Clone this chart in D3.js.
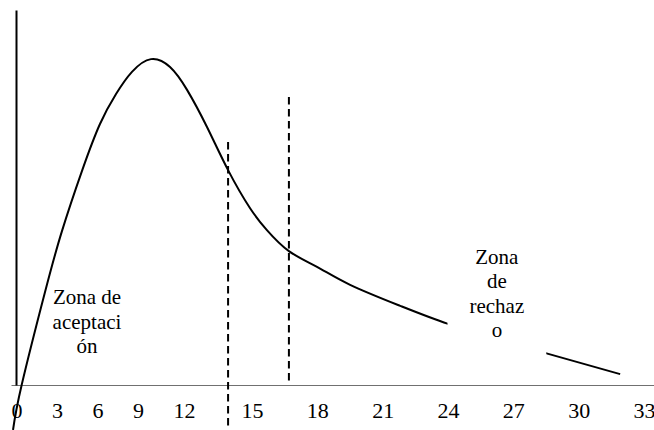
<!DOCTYPE html>
<html>
<head>
<meta charset="utf-8">
<script src="https://cdn.jsdelivr.net/npm/d3@7/dist/d3.min.js"></script>
<style>
  html, body { margin: 0; padding: 0; background: #fff; }
  svg { display: block; }
</style>
</head>
<body>
<script>
// ---- data ----
const xTickValues = [0, 3, 6, 9, 12, 15, 18, 21, 24, 27, 30, 33];
const curveX = [0.15, 0.79, 2.52, 3.78, 5.26, 6.59, 7.78, 8.96, 10.37, 11.78, 12.62, 13.50, 14.43, 15.41, 16.19, 17.20, 18.49, 20.01, 22.31, 24.51, 26.81, 29.11, 32.41];
const curveY = [-0.012, 0, 0.0248, 0.0411, 0.0571, 0.0696, 0.0776, 0.0835, 0.0869, 0.0848, 0.0787, 0.0688, 0.0573, 0.0472, 0.0413, 0.0357, 0.0315, 0.0267, 0.0211, 0.0163, 0.0123, 0.0083, 0.0029];
const criticalX = [14.43, 17.20];
const criticalTop = [0.0648, 0.0768];
const criticalBottom = [-0.012, 0];
const acceptLines = ["Zona de", "aceptaci", "ón"];
const acceptAnchor = [5.63, 0.0216];
const rejectLines = ["Zona", "de", "rechaz", "o"];
const rejectAnchor = [26.75, 0.0323];

// ---- layout ----
const W = 654, H = 430;
const svg = d3.select("body").append("svg").attr("width", W).attr("height", H);

const x = d3.scaleLinear()
  .domain([0, 12, 15, 33, 34])
  .range([11, 173, 241, 633, 654.8]);
const y = d3.scaleLinear().domain([0, 0.1]).range([385, 10]);

const serif = "Liberation Serif";

// x axis
const gx = svg.append("g").attr("transform", `translate(0,${y(0)})`)
  .call(d3.axisBottom(x).tickValues(xTickValues).tickSize(0).tickSizeOuter(0).tickPadding(17));
gx.attr("font-family", serif).attr("font-size", 22);
gx.select(".domain").attr("stroke", "#707070").attr("stroke-width", 1);
gx.selectAll("text")
  .attr("text-anchor", "start")
  .attr("font-family", serif)
  .attr("font-size", 22)
  .attr("fill", "#000");

// y axis (plain line)
const gy = svg.append("g").attr("transform", "translate(16,0)")
  .call(d3.axisLeft(y).tickValues([]).tickSizeOuter(0));
gy.select(".domain").attr("stroke", "#000").attr("stroke-width", 2);

// curve
const pts = curveX.map((v, i) => [v, curveY[i]]);
const line = d3.line().x(d => x(d[0])).y(d => y(d[1])).curve(d3.curveNatural);
svg.append("path").datum(pts)
  .attr("d", line)
  .attr("fill", "none")
  .attr("stroke", "#000")
  .attr("stroke-width", 2);

// critical dashed lines
svg.selectAll("line.crit").data(criticalX).enter().append("line")
  .attr("class", "crit")
  .attr("x1", d => x(d)).attr("x2", d => x(d))
  .attr("y1", (d, i) => y(criticalTop[i]))
  .attr("y2", (d, i) => y(criticalBottom[i]))
  .attr("stroke", "#000")
  .attr("stroke-width", 2)
  .attr("stroke-dasharray", "7.5,4.5");

// annotation text boxes
function textBox(lines, anchor, withBg) {
  const g = svg.append("g");
  const bg = g.append("rect").attr("fill", "#fff");
  const t = g.append("text")
    .attr("font-family", serif)
    .attr("font-size", 21)
    .attr("fill", "#000")
    .attr("text-anchor", "middle");
  lines.forEach((s, i) => {
    t.append("tspan")
      .attr("x", x(anchor[0]))
      .attr("y", y(anchor[1]) + i * 24.5)
      .text(s);
  });
  if (withBg) {
    const b = t.node().getBBox();
    bg.attr("x", b.x - 22).attr("y", b.y - 6)
      .attr("width", b.width + 44).attr("height", b.height + 24);
  } else {
    bg.remove();
  }
}
textBox(acceptLines, acceptAnchor, false);
textBox(rejectLines, rejectAnchor, true);
</script>
</body>
</html>
